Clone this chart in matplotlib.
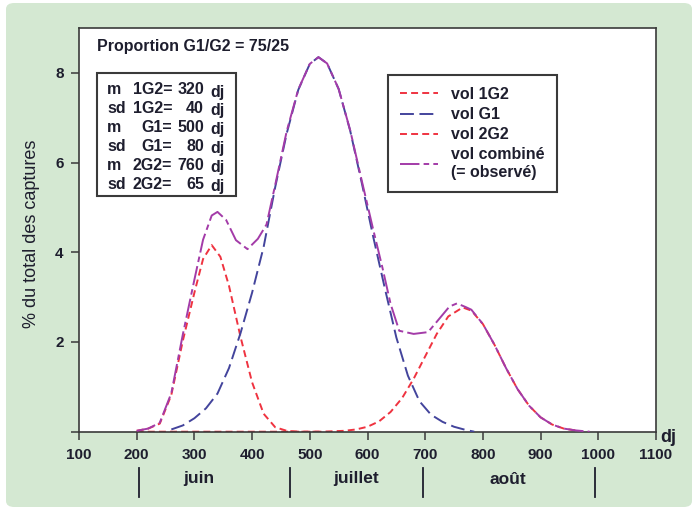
import matplotlib
matplotlib.use('Agg')
import matplotlib.pyplot as plt
from matplotlib.patches import Rectangle, FancyBboxPatch
from matplotlib.transforms import blended_transform_factory

plt.rcParams['font.family'] = ['Liberation Sans', 'DejaVu Sans']
plt.rcParams['font.weight'] = 'bold'
plt.rcParams['lines.scale_dashes'] = False

# degrés-jours (dj) et % du total des captures, lus sur chaque courbe
dj_1g2 = [200, 220, 240, 260, 280, 300, 315, 330, 345, 360, 380, 400, 420, 440, 460, 480, 520]
vol_1g2 = [0.02, 0.07, 0.18, 0.82, 2.03, 3.10, 3.85, 4.16, 3.90, 3.25, 2.11, 1.10, 0.40, 0.10, 0.02, 0.0, 0.0]

dj_g1 = [260, 280, 300, 320, 340, 360, 380, 400, 420, 440, 460, 480, 500, 515, 530,
         550, 570, 590, 610, 630, 650, 670, 690, 710, 730, 750, 770, 785]
vol_g1 = [0.05, 0.14, 0.30, 0.52, 0.85, 1.42, 2.20, 3.10, 4.12, 5.45, 6.65, 7.62, 8.20, 8.35, 8.21,
          7.64, 6.71, 5.55, 4.34, 3.20, 2.10, 1.25, 0.68, 0.38, 0.22, 0.11, 0.04, 0.0]

dj_2g2 = [200, 480, 520, 540, 560, 580, 600, 620, 640, 660, 680, 700, 720, 740, 765,
          780, 800, 820, 840, 860, 880, 900, 920, 940, 960]
vol_2g2 = [0.0, 0.0, 0.0, 0.01, 0.02, 0.05, 0.11, 0.23, 0.44, 0.75, 1.18, 1.68, 2.18, 2.57, 2.77,
           2.70, 2.40, 1.94, 1.42, 0.95, 0.58, 0.32, 0.16, 0.07, 0.03]

dj_comb = [200, 220, 240, 260, 280, 300, 315, 330, 340, 355, 372, 392, 410, 425, 440, 460, 480,
           500, 515, 530, 550, 570, 590, 610, 626, 640, 655, 680, 705, 720, 742, 755, 770, 780,
           800, 820, 840, 860, 880, 900, 920, 940, 960, 985]
vol_comb = [0.02, 0.07, 0.20, 0.86, 2.17, 3.39, 4.28, 4.82, 4.90, 4.72, 4.27, 4.07, 4.30, 4.62, 5.50,
            6.70, 7.63, 8.20, 8.35, 8.21, 7.64, 6.72, 5.60, 4.50, 3.65, 2.85, 2.25, 2.18, 2.22, 2.45,
            2.79, 2.86, 2.78, 2.72, 2.40, 1.94, 1.42, 0.95, 0.58, 0.32, 0.16, 0.07, 0.03, 0.0]

xticks = list(range(100, 1101, 100))
yticks = [0, 2, 4, 6, 8]
ytick_labels = ['', '2', '4', '6', '8']

months = ['juin', 'juillet', 'août']
month_pos = [308, 580, 843]
month_bounds = [204, 465, 696, 994]

stats_names = ['m', 'sd', 'm', 'sd', 'm', 'sd']
stats_groups = ['1G2', '1G2', 'G1', 'G1', '2G2', '2G2']
stats_values = [320, 40, 500, 80, 760, 65]

W, H = 692, 507
ink = '#1e1e2e'
edge = '#3a3a3a'
red = '#ef3340'


def fx(x):
    return x / W


def fy(y):
    return 1 - y / H


fig = plt.figure(figsize=(W / 100, H / 100), dpi=100)
fig.patch.set_facecolor('white')
fig.patches.append(FancyBboxPatch((fx(6), 0), 1 - fx(6), fy(3), boxstyle='round,pad=0,rounding_size=0.012',
                                  transform=fig.transFigure, facecolor='#d4e8d2', edgecolor='none', zorder=-5))

ax = fig.add_axes([fx(79), fy(431.7), fx(656) - fx(79), fy(28) - fy(431.7)])
ax.set_facecolor('white')

ax.plot(dj_1g2, vol_1g2, color=red, lw=1.4, dashes=(5, 3), label='vol 1G2', zorder=2)
ax.plot(dj_2g2, vol_2g2, color=red, lw=1.4, dashes=(5, 3), label='vol 2G2', zorder=2)
ax.plot(dj_g1, vol_g1, color='#43449c', lw=1.4, dashes=(10, 4), label='vol G1', zorder=3)
ax.plot(dj_comb, vol_comb, color='#a33ba8', lw=1.4, dashes=(14, 3, 4, 3),
        label='vol combiné\n(= observé)', zorder=4)

ax.set_xlim(100, 1100)
ax.set_ylim(0, 9)
ax.set_xticks(xticks)
ax.set_yticks(yticks)
ax.set_yticklabels(ytick_labels)
ax.tick_params(direction='out', length=6, width=1.1, color=edge, labelsize=11, labelcolor=ink)
ax.tick_params(axis='x', pad=6)
ax.tick_params(axis='y', pad=5)
for s in ax.spines.values():
    s.set_color(edge)
    s.set_linewidth(1.2)

ax.set_ylabel('% du total des captures', fontsize=13, color=ink, va='center')
ax.yaxis.set_label_coords(-0.082, 0.49)

handles, labels = ax.get_legend_handles_labels()
order = [0, 2, 1, 3]
leg = ax.legend([handles[i] for i in order], [labels[i] for i in order], loc='upper left',
                bbox_to_anchor=(fx(388), fy(75)), bbox_transform=fig.transFigure,
                frameon=True, fancybox=False, edgecolor=edge, framealpha=1,
                borderpad=0.75, handlelength=2.4, handletextpad=0.8, labelspacing=0.32,
                borderaxespad=0, prop=dict(family='Liberation Sans', weight='bold', size=11.5))
leg.get_frame().set_linewidth(1.5)
for t in leg.get_texts():
    t.set_color(ink)

fig.text(fx(97), fy(46), 'Proportion G1/G2 = 75/25', fontsize=11.5, color=ink, va='center')

fig.patches.append(Rectangle((fx(97), fy(196)), fx(236) - fx(97), fy(73) - fy(196), transform=fig.transFigure,
                             facecolor='white', edgecolor=edge, lw=1.5, zorder=5))
for i in range(len(stats_values)):
    y = fy(90 + i * 18.8)
    fig.text(fx(107), y, stats_names[i], fontsize=11.5, color=ink, va='center', zorder=6)
    fig.text(fx(172), y, stats_groups[i] + '=', fontsize=11.5, color=ink, va='center', ha='right', zorder=6)
    fig.text(fx(204), y, str(stats_values[i]), fontsize=11.5, color=ink, va='center', ha='right', zorder=6)
    fig.text(fx(210), y - 0.004, 'dj', fontsize=11.5, color=ink, va='center', zorder=6)

fig.text(fx(668), fy(437), 'dj', fontsize=13, color=ink, ha='center', va='center')

trans = blended_transform_factory(ax.transData, fig.transFigure)
for b in month_bounds:
    ax.plot([b, b], [fy(468), fy(497)], color=ink, lw=1.3, transform=trans, clip_on=False)
for name, p in zip(months, month_pos):
    ax.text(p, fy(479), name, fontsize=12.5, color=ink, ha='center', va='center', transform=trans)

fig.savefig('out.png', dpi=100, facecolor=fig.get_facecolor())
